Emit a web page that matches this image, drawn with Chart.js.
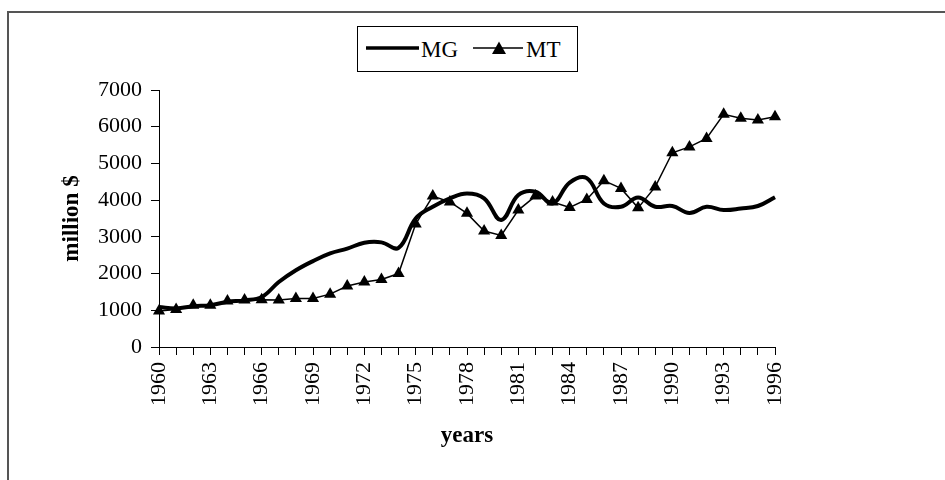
<!DOCTYPE html>
<html>
<head>
<meta charset="utf-8">
<script src="https://cdn.jsdelivr.net/npm/chart.js@4"></script>
<style>
  html, body { margin: 0; padding: 0; background: #fff; }
  #wrap { position: relative; width: 945px; height: 480px; overflow: hidden; }
  #frame { position: absolute; left: 7px; top: 11px; width: 950px; height: 480px;
           border-top: 2px solid #555; border-left: 2px solid #555; }
  #chart { position: absolute; left: 0; top: 0; }
  #legend { position: absolute; left: 357px; top: 26px; width: 219px; height: 44px;
            border: 1px solid #000; background: #fff; }
  #legend svg { position: absolute; left: 0; top: 0; }
  #legend span { position: absolute; top: 10px; line-height: 23px;
                 font: 23px "Liberation Serif", "Times New Roman", serif; color: #000; }
</style>
</head>
<body>
<div id="wrap">
  <div id="frame"></div>
  <canvas id="chart" width="945" height="480"></canvas>
  <div id="legend">
    <svg width="219" height="44">
      <line x1="8" y1="21" x2="61" y2="21" stroke="#000" stroke-width="3.5"/>
      <line x1="115" y1="21" x2="165" y2="21" stroke="#000" stroke-width="1.5"/>
      <polygon points="141,14.5 148,27 134,27" fill="#000"/>
    </svg>
    <span id="lgMG" style="left:63px"></span>
    <span id="lgMT" style="left:168px"></span>
  </div>
</div>
<script>
// categories
const years = ['1960','1961','1962','1963','1964','1965','1966','1967','1968','1969',
               '1970','1971','1972','1973','1974','1975','1976','1977','1978','1979',
               '1980','1981','1982','1983','1984','1985','1986','1987','1988','1989',
               '1990','1991','1992','1993','1994','1995','1996'];

// series (million $)
const mgName = 'MG';
const mgValues = [1090, 1050, 1110, 1140, 1230, 1270, 1360, 1770, 2090, 2340,
                  2550, 2680, 2840, 2850, 2700, 3500, 3820, 4050, 4180, 4050,
                  3460, 4140, 4230, 3910, 4480, 4600, 3910, 3820, 4070, 3820,
                  3840, 3650, 3820, 3730, 3770, 3840, 4080];

const mtName = 'MT';
const mtValues = [980, 1020, 1140, 1140, 1250, 1280, 1290, 1280, 1320, 1320,
                  1440, 1660, 1770, 1840, 2000, 3350, 4110, 3950, 3640, 3160,
                  3040, 3730, 4110, 3950, 3800, 4020, 4530, 4320, 3790, 4360,
                  5290, 5450, 5680, 6340, 6230, 6180, 6270];

// y axis ticks
const yMin = 0;
const yMax = 7000;
const yStep = 1000;

document.getElementById('lgMG').textContent = mgName;
document.getElementById('lgMT').textContent = mtName;

const serif = '"Liberation Serif", "Times New Roman", serif';
Chart.defaults.color = '#000';

new Chart(document.getElementById('chart'), {
    type: 'line',
    data: {
        labels: years,
        datasets: [{
            label: mtName,
            data: mtValues,
            borderColor: '#000',
            backgroundColor: '#000',
            borderWidth: 1.5,
            pointStyle: 'triangle',
            pointRadius: 7,
            pointHoverRadius: 7,
            pointBorderWidth: 0,
            tension: 0,
            order: 0
        }, {
            label: mgName,
            data: mgValues,
            borderColor: '#000',
            borderWidth: 4,
            pointRadius: 0,
            tension: 0.4,
            order: 1
        }]
    },
    options: {
        responsive: false,
        animation: false,
        layout: { padding: { left: 58, top: 90, right: 170, bottom: 30 } },
        plugins: {
            legend: { display: false },
            tooltip: { enabled: false }
        },
        scales: {
            x: {
                type: 'category',
                offset: false,
                grid: { drawOnChartArea: false, color: '#000', tickLength: 8 },
                border: { color: '#000', width: 1 },
                ticks: {
                    autoSkip: false,
                    minRotation: 90,
                    maxRotation: 90,
                    padding: 7,
                    font: { family: serif, size: 22 },
                    callback: function (v, i) { return i % 3 === 0 ? this.getLabelForValue(v) : ''; }
                },
                title: { display: true, text: 'years', padding: 0,
                         font: { family: serif, size: 23, weight: 'bold' } },
                afterFit: function (s) { s.height = 103; }
            },
            y: {
                min: yMin,
                max: yMax,
                grid: { drawOnChartArea: false, color: '#000', tickLength: 8 },
                border: { color: '#000', width: 1 },
                ticks: {
                    stepSize: yStep,
                    padding: 9,
                    font: { family: serif, size: 22 },
                    callback: v => String(v)
                },
                title: { display: true, text: 'million $', padding: 0,
                         font: { family: serif, size: 23, weight: 'bold' } },
                afterFit: function (s) { s.width = 101; }
            }
        }
    }
});
</script>
</body>
</html>
